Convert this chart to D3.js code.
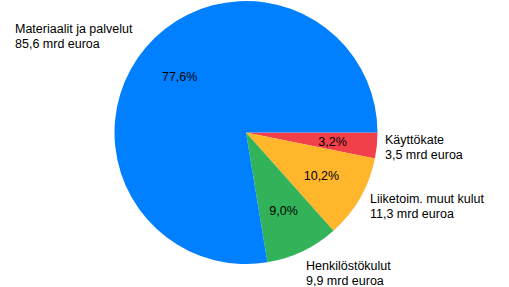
<!DOCTYPE html>
<html><head><meta charset="utf-8">
<script src="https://cdn.jsdelivr.net/npm/d3@7"></script>
<style>body{margin:0;background:#fff}svg{display:block}text{font-family:"Liberation Sans",Arial,sans-serif;font-size:12.5px;fill:#000}</style>
</head><body>
<script>
const categories = ["Käyttökate", "Liiketoim. muut kulut", "Henkilöstökulut", "Materiaalit ja palvelut"];
const values = [3.5, 11.3, 9.9, 85.6];
const percentLabels = ["3,2%", "10,2%", "9,0%", "77,6%"];
const valueLabels = ["3,5 mrd euroa", "11,3 mrd euroa", "9,9 mrd euroa", "85,6 mrd euroa"];
const colors = ["#f2404a", "#ffb62b", "#33b359", "#0080ff"];

const W = 509, H = 287, cx = 246, cy = 132.5, R = 131.5;
const outerPos = [[385, 144], [370, 203], [306, 270], [15, 33]];

const svg = d3.select("body").append("svg").attr("width", W).attr("height", H);
const g = svg.append("g").attr("transform", `translate(${cx},${cy})`);
const pie = d3.pie().sort(null).startAngle(Math.PI/2).endAngle(Math.PI/2 + 2*Math.PI);
const arcs = pie(values);
const arc = d3.arc().innerRadius(0).outerRadius(R);
const labelArc = d3.arc().innerRadius(87).outerRadius(87);

g.selectAll("path").data(arcs).join("path")
  .attr("d", arc).attr("fill", (d,i) => colors[i]);

g.selectAll("text.pct").data(arcs).join("text").attr("class","pct")
  .attr("transform", d => `translate(${labelArc.centroid(d)})`)
  .attr("text-anchor","middle").attr("dy","0.35em")
  .text((d,i) => percentLabels[i]);

const lab = svg.selectAll("text.lab").data(categories).join("text").attr("class","lab")
  .attr("x", (d,i) => outerPos[i][0]).attr("y", (d,i) => outerPos[i][1]);
lab.append("tspan").text(d => d);
lab.append("tspan").attr("x", (d,i) => outerPos[i][0]).attr("dy", 15).text((d,i) => valueLabels[i]);
</script>
</body></html>
